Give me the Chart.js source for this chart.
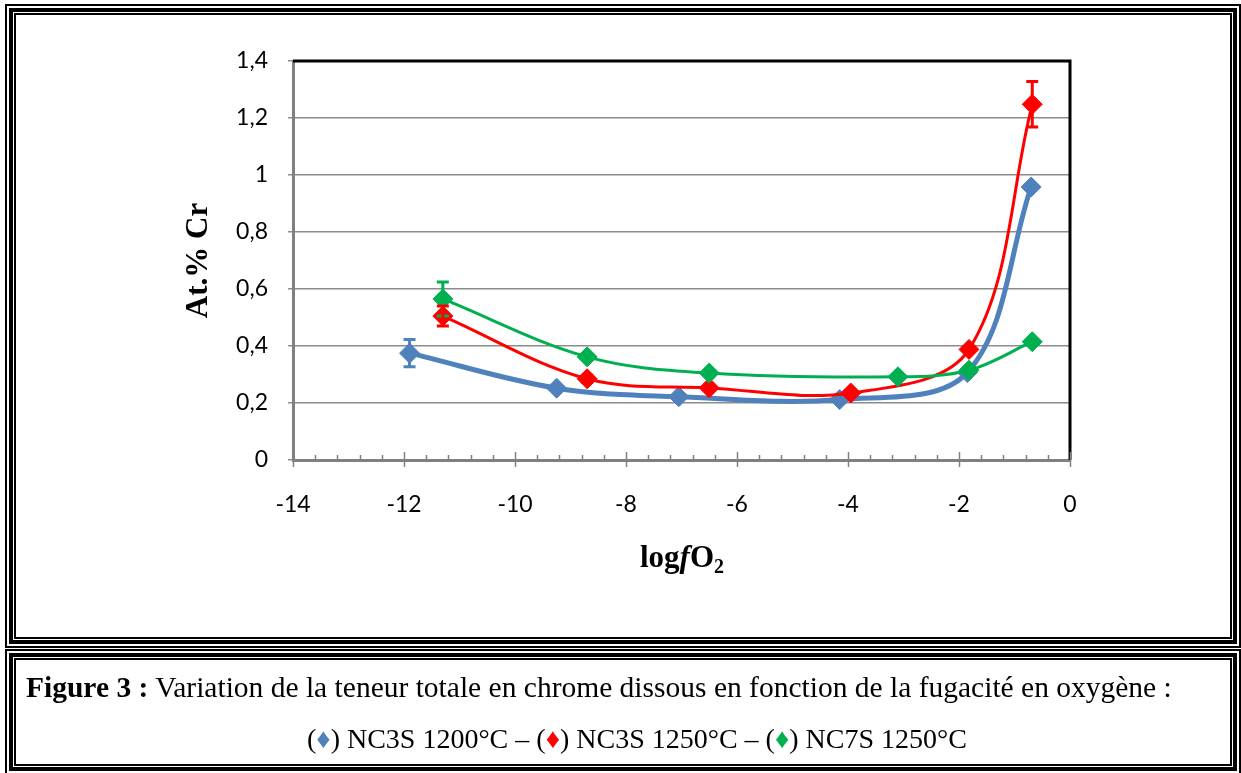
<!DOCTYPE html>
<html lang="fr">
<head>
<meta charset="UTF-8">
<title>Teneur en chrome dissous</title>
<script src="https://cdn.jsdelivr.net/npm/chart.js"></script>
<style>
    html, body { margin: 0; padding: 0; background: #fff; }
    #page { position: relative; width: 1241px; height: 773px; overflow: hidden; }
    .cadre { position: absolute; border: 2px solid #000; padding: 2px; box-sizing: border-box; }
    .cadre > div { border: 4px solid #000; padding: 1px; height: 100%; box-sizing: border-box; }
    .cadre > div > div { border: 2px solid #000; height: 100%; box-sizing: border-box; }
    #graphe { position: absolute; left: 0; top: 0; }
    .legende { position: absolute; font-family: "Liberation Serif", "Times New Roman", serif; color: #000; white-space: nowrap; }
    #titre-x { position: absolute; left: 582px; top: 539px; width: 200px; text-align: center;
               font-family: "Liberation Serif", serif; font-weight: bold; font-size: 31px; line-height: 36px; }
    #titre-x sub { font-size: 20px; vertical-align: -6px; line-height: 0; }
</style>
</head>
<body>
<div id="page">
    <div class="cadre" style="left:5px; top:4px; width:1236px; height:644px;"><div><div></div></div></div>
    <div class="cadre" style="left:5px; top:649px; width:1236px; height:126px;"><div><div></div></div></div>
    <canvas id="graphe" width="1241" height="773"></canvas>
    <div id="titre-x">log<i>f</i>O<sub>2</sub></div>
    <div class="legende" style="left:26px; top:671px; font-size:29.5px;"><b>Figure 3 :</b> Variation de la teneur totale en chrome dissous en fonction de la fugacité en oxygène :</div>
    <div class="legende" style="left:307px; top:723px; font-size:28px;">(<span style="color:#4F81BD">♦</span>) NC3S 1200°C – (<span style="color:#FF0000">♦</span>) NC3S 1250°C – (<span style="color:#00B050">♦</span>) NC7S 1250°C</div>
</div>
<script>
    // valeurs (logfO2, at.% Cr, barre d'erreur)
    const bleuX = [-11.9, -9.25, -7.05, -4.15, -1.85, -0.7];
    const bleuY = [0.375, 0.252, 0.222, 0.212, 0.307, 0.958];
    const bleuErr = [0.048, 0, 0, 0, 0, 0];

    const rougeX = [-11.3, -8.7, -6.5, -3.95, -1.82, -0.68];
    const rougeY = [0.505, 0.285, 0.253, 0.235, 0.388, 1.248];
    const rougeErr = [0.035, 0.012, 0, 0, 0, 0.08];

    const vertX = [-11.3, -8.7, -6.5, -3.1, -1.82, -0.68];
    const vertY = [0.565, 0.362, 0.305, 0.292, 0.315, 0.415];
    const vertErr = [0.06, 0, 0, 0, 0, 0];

    const ticksX = [-14, -12, -10, -8, -6, -4, -2, 0];

    function points(xs, ys) {
        return xs.map((x, i) => ({ x: x, y: ys[i] }));
    }

    // barres d'erreur, cadre noir et petites graduations
    const decor = {
        id: 'decor',
        afterDatasetsDraw(chart) {
            const ctx = chart.ctx;
            const sx = chart.scales.x, sy = chart.scales.y;
            chart.data.datasets.forEach(ds => {
                ctx.save();
                ctx.strokeStyle = ds.borderColor;
                ctx.lineWidth = 3;
                ds.erreurs.forEach((e, i) => {
                    if (!e) return;
                    const px = sx.getPixelForValue(ds.data[i].x);
                    const y1 = sy.getPixelForValue(ds.data[i].y + e);
                    const y2 = sy.getPixelForValue(ds.data[i].y - e);
                    ctx.beginPath();
                    ctx.moveTo(px, y1); ctx.lineTo(px, y2);
                    ctx.moveTo(px - 6, y1); ctx.lineTo(px + 6, y1);
                    ctx.moveTo(px - 6, y2); ctx.lineTo(px + 6, y2);
                    ctx.stroke();
                });
                ctx.restore();
            });
        },
        afterDraw(chart) {
            const ctx = chart.ctx;
            const a = chart.chartArea;
            const sx = chart.scales.x;
            ctx.save();
            ctx.strokeStyle = '#000';
            ctx.lineWidth = 3;
            ctx.beginPath();
            ctx.moveTo(a.left, a.top);
            ctx.lineTo(a.right, a.top);
            ctx.lineTo(a.right, a.bottom);
            ctx.stroke();
            ctx.strokeStyle = '#808080';
            ctx.lineWidth = 1.5;
            for (let v = -14; v <= 0.001; v += 0.4) {
                const px = Math.round(sx.getPixelForValue(v)) + 0.5;
                const majeur = Math.abs(v / 2 - Math.round(v / 2)) < 0.01;
                ctx.beginPath();
                ctx.moveTo(px, a.bottom - (majeur ? 8 : 5));
                ctx.lineTo(px, a.bottom + (majeur ? 7 : 0));
                ctx.stroke();
            }
            ctx.restore();
        }
    };

    const commun = {
        pointStyle: 'rectRot',
        pointRadius: 10,
        pointBorderWidth: 1,
        showLine: true,
        tension: 0.35
    };

    new Chart(document.getElementById('graphe'), {
        type: 'scatter',
        data: {
            datasets: [
                Object.assign({
                    label: 'NC7S 1250°C',
                    data: points(vertX, vertY),
                    erreurs: vertErr,
                    borderColor: '#00B050',
                    backgroundColor: '#00B050',
                    borderWidth: 3,
                    order: 0
                }, commun),
                Object.assign({
                    label: 'NC3S 1250°C',
                    data: points(rougeX, rougeY),
                    erreurs: rougeErr,
                    borderColor: '#FF0000',
                    backgroundColor: '#FF0000',
                    borderWidth: 3,
                    order: 1
                }, commun),
                Object.assign({
                    label: 'NC3S 1200°C',
                    data: points(bleuX, bleuY),
                    erreurs: bleuErr,
                    borderColor: '#4F81BD',
                    backgroundColor: '#4F81BD',
                    borderWidth: 5,
                    order: 2
                }, commun)
            ]
        },
        options: {
            responsive: false,
            animation: false,
            events: [],
            layout: { padding: { left: 180, right: 171, top: 61, bottom: 193 } },
            plugins: { legend: { display: false }, tooltip: { enabled: false } },
            scales: {
                x: {
                    type: 'linear',
                    min: -14,
                    max: 0,
                    afterBuildTicks(scale) { scale.ticks = ticksX.map(v => ({ value: v })); },
                    afterFit(scale) { scale.height = 120; },
                    grid: { display: false, drawTicks: false },
                    border: { display: true, color: '#808080', width: 3 },
                    ticks: { padding: 31, color: '#000', font: { family: 'Lato', size: 23 } }
                },
                y: {
                    min: 0,
                    max: 1.4,
                    ticks: {
                        stepSize: 0.2,
                        padding: 20,
                        color: '#000',
                        font: { family: 'Lato', size: 23 },
                        callback: v => String(Math.round(v * 10) / 10).replace('.', ',')
                    },
                    afterFit(scale) { scale.width = 113; },
                    grid: { color: '#8c8c8c', lineWidth: 1.5, drawTicks: true, tickLength: 5 },
                    border: { display: true, color: '#808080', width: 3 },
                    title: {
                        display: true,
                        text: 'At.% Cr',
                        color: '#000',
                        padding: { top: 0, bottom: 0 },
                        font: { family: 'Liberation Serif', weight: 'bold', size: 31 }
                    }
                }
            }
        },
        plugins: [decor]
    });
</script>
</body>
</html>
